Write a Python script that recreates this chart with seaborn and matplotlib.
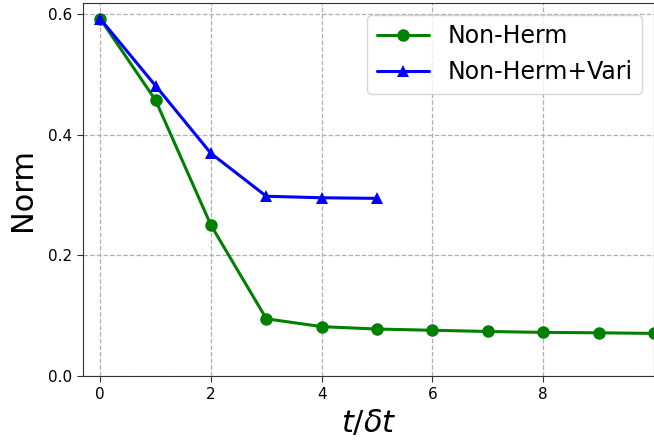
import numpy as np
import pandas as pd
import matplotlib
matplotlib.use("Agg")
import matplotlib.pyplot as plt
import seaborn as sns

steps_nh = [0, 1, 2, 3, 4, 5, 6, 7, 8, 9, 10]
norm_nh = [0.592, 0.457, 0.250, 0.095, 0.082, 0.078, 0.076, 0.074, 0.0725, 0.0718, 0.0708]
steps_nv = [0, 1, 2, 3, 4, 5]
norm_nv = [0.592, 0.481, 0.369, 0.298, 0.2955, 0.2945]
labels = ["Non-Herm", "Non-Herm+Vari"]

df = pd.concat([
    pd.DataFrame({"t": steps_nh, "norm": norm_nh, "method": labels[0]}),
    pd.DataFrame({"t": steps_nv, "norm": norm_nv, "method": labels[1]}),
])

sns.set_style("ticks")
plt.rcParams['font.family'] = ['DejaVu Sans']
plt.rcParams['text.color'] = 'black'
plt.rcParams['axes.labelcolor'] = 'black'
plt.rcParams['xtick.color'] = 'black'
plt.rcParams['ytick.color'] = 'black'

fig = plt.figure(figsize=(6.54, 4.42), dpi=100)
ax = fig.add_axes([0.127, 0.149, 0.873, 0.844])

sns.lineplot(data=df, x="t", y="norm", hue="method", style="method",
             palette={labels[0]: "green", labels[1]: "blue"},
             markers={labels[0]: "o", labels[1]: "^"},
             dashes=False, markersize=9, linewidth=2.2, markeredgewidth=0,
             ax=ax)

ax.set_xlim(-0.31, 10.0)
ax.set_ylim(0.0, 0.618)
ax.set_xticks([0, 2, 4, 6, 8])
ax.set_yticks([0.0, 0.2, 0.4, 0.6])
ax.grid(True, linestyle="--", color="#b0b0b0", linewidth=0.9)
ax.tick_params(labelsize=11, direction="out", length=4.5, color="#333333")
for s in ax.spines.values():
    s.set_color("#333333")
ax.set_xlabel(r"$t/\delta t$", fontsize=22)
ax.set_ylabel("Norm", fontsize=22, labelpad=8)
leg = ax.legend(loc="upper right", fontsize=17, frameon=True, title=None,
                handlelength=2.2)
for line in leg.get_lines():
    line.set_linewidth(2.2)

fig.savefig("out.png", dpi=100)
